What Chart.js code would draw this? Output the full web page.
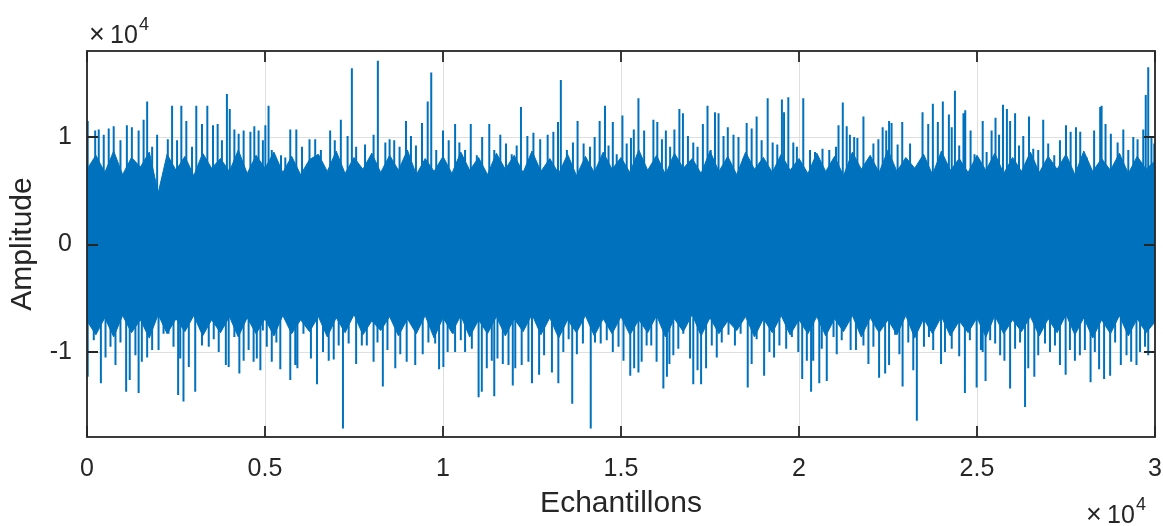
<!DOCTYPE html>
<html>
<head>
<meta charset="utf-8">
<script src="https://cdn.jsdelivr.net/npm/chart.js@4.4.0/dist/chart.umd.min.js"></script>
<style>
  html,body{margin:0;padding:0;background:#fff;overflow:hidden}
  canvas{display:block}
</style>
</head>
<body>
<canvas id="sig" width="1163" height="526"></canvas>
<script>
// Signal: dense core band (upper/lower edge every 250 samples) + individual peaks and troughs
const coreStep = 250;
const coreTop = [
  7000,8300,6700,8700,6500,8100,7200,8600,4800,8400,6900,8200,6400,8500,7100,8000,6800,8800,6600,8300,
  7100,8600,6700,8200,6500,7900,8400,6800,8700,6600,8100,7000,8500,6700,8300,6900,8800,6500,8000,6800,
  8200,6600,8600,6900,8100,6500,8500,7000,8300,6700,8700,6800,8000,6600,8400,6400,8200,6700,8600,7000,
  8100,6700,8800,6900,8300,6500,8500,7100,8000,6600,8700,6800,8200,6500,8600,7000,8100,6700,8400,6900,
  8000,6600,8500,6800,8200,6400,8600,7000,8300,6700,8800,6800,8100,7100,8400,6500,8700,6900,8000,6700,
  8300,6900,8500,6600,8100,6800,8600,6700,8200,7000,8400,6500,8700,6800,8000,6900,8500,6600,8200,7000,
  7800
];
const coreBottom = [
  -7100,-8400,-6800,-8600,-6600,-8200,-7000,-8700,-6500,-8300,-6900,-8100,-6600,-8500,-7000,-8200,-6700,-8600,-6800,-8300,
  -6900,-8500,-6600,-8300,-7000,-8100,-6700,-8600,-6800,-8200,-6500,-8400,-7100,-8000,-6700,-8500,-6900,-8300,-6600,-8700,
  -6800,-8200,-6600,-8600,-7000,-8300,-6700,-8500,-6900,-8100,-6500,-8400,-6800,-8700,-7000,-8200,-6600,-8500,-6900,-8300,
  -6700,-8400,-7000,-8200,-6600,-8600,-6900,-8100,-6500,-8500,-6800,-8300,-7100,-8000,-6700,-8600,-6900,-8200,-6600,-8400,
  -7000,-8300,-6700,-8500,-6900,-8100,-6600,-8600,-6800,-8200,-7000,-8400,-6600,-8700,-6900,-8300,-6700,-8500,-7100,-8200,
  -6800,-8600,-6600,-8300,-7000,-8100,-6700,-8500,-6900,-8200,-6500,-8400,-6800,-8700,-7000,-8300,-6600,-8500,-6900,-8200,
  -7200
];

const peakSamples = [
  20,230,330,470,610,750,940,1120,1260,1450,1590,1690,1830,1970,2270,2390,2530,2650,2790,2950,3070,3230,3380,3540,3670,3790,3930,4010,4140,4260,4400,4590,4700,4820,4940,
  5010,5100,5190,5450,5570,5710,5880,6040,6250,6410,6570,6830,6960,7130,7320,7440,7560,7810,8050,8170,8380,8500,8630,8780,8960,9100,9240,9410,9570,9670,9810,10000,
  10160,10340,10460,10620,10780,10950,11100,11300,11440,11610,11770,11930,12070,12190,12370,12540,12730,12940,13100,13230,13310,13480,13650,13780,13950,14130,14260,14400,14550,14650,14770,14880,15040,
  15160,15280,15360,15490,15650,15910,16020,16150,16260,16380,16500,16640,16740,16880,17030,17150,17300,17430,17520,17640,17740,17880,18000,18160,18300,18440,18530,18670,18810,18950,19120,19260,19390,19520,19580,19700,19840,19940,20120,
  20310,20450,20660,20850,21040,21110,21230,21340,21430,21550,21640,21810,22090,22230,22350,22450,22530,22600,22770,22900,23120,23470,23630,23760,23900,24040,24210,24290,24380,24500,24620,24670,24820,24930,25160,
  25270,25410,25520,25620,25730,25840,25930,26070,26180,26300,26460,26580,26720,26860,27000,27170,27330,27500,27630,27780,27900,28080,28290,28460,28500,28610,28760,28950,29110,29250,29390,29510,29670,29740,29810,29900,29980
];
const peakValues = [
  11500,10600,10700,10200,10800,11000,9700,11100,10900,10600,11600,13300,9100,10200,9800,12900,9700,12900,11500,9100,12900,11200,12900,11100,11200,9700,14000,12600,10700,10300,10600,10500,11000,10600,9700,
  11100,12900,8800,8300,8100,10700,10700,9100,9800,9800,8800,10600,9700,11600,10100,16400,9100,9300,10200,17100,9500,9800,9700,9100,11500,10100,9200,11300,13300,16000,8800,10600,
  9700,11200,9500,8800,11200,8300,10000,11200,8800,10200,9400,8400,9200,12800,10100,10400,9800,10200,10500,11400,15300,8800,9500,11500,9400,9100,10000,11500,12900,9200,11400,8400,12000,
  9400,9900,10700,13600,10600,11600,11400,9800,10600,9100,10700,12600,12200,10100,9500,9100,11200,12900,8800,12300,12200,10100,10900,10200,10000,8000,11300,10800,11900,9700,13600,9500,9300,13500,12300,13700,9500,9100,13600,
  8800,8600,8900,8800,9100,11100,13200,11000,10200,10000,9900,11900,9400,9800,10900,10600,11500,11300,9300,11400,9400,12300,11200,13100,11400,13300,12100,10900,14300,9200,12200,12500,10600,8400,11500,
  8600,10600,11800,10200,13000,12600,11500,12200,9200,10100,11900,8900,8800,11600,9400,8300,9700,11100,10500,10900,10500,8100,10600,12800,12900,11200,10300,9500,10700,8800,10000,9800,10700,13900,16500,10000,9400
];

const troughSamples = [
  20,190,390,520,660,800,940,1100,1200,1360,1450,1540,1690,1830,2010,2150,2290,2430,2560,2620,2710,2860,3040,3230,3420,3560,3700,3900,3980,4140,4280,4400,4540,4680,4770,4940,
  4870,5050,5190,5320,5430,5710,5850,5910,6080,6290,6460,6630,6790,6930,7070,7190,7350,7560,7720,7860,8050,8160,8310,8440,8660,8800,8980,9220,9430,9590,9780,9890,10010,
  10130,10280,10340,10500,10620,10810,11000,11090,11230,11370,11440,11530,11680,11840,11960,12030,12210,12400,12500,12700,12840,13060,13240,13380,13530,13630,13760,13930,14150,14270,14430,14600,14770,14930,15070,
  15260,15370,15490,15580,15720,15850,16000,16190,16290,16360,16470,16610,16750,16940,17030,17150,17250,17390,17550,17690,17830,18020,18200,18360,18560,18670,18810,19020,19170,19300,19450,19640,19800,19980,20090,
  20220,20340,20400,20570,20640,20780,20970,21060,21200,21450,21600,21810,21950,22090,22250,22420,22530,22700,22820,22910,23070,23210,23310,23510,23650,23770,23990,24100,24290,24500,24660,24800,24990,25160,
  25110,25240,25370,25510,25650,25770,25930,26070,26210,26350,26440,26610,26720,26910,27050,27190,27330,27490,27610,27750,27890,28030,28190,28310,28430,28570,28740,28880,29040,29200,29330,29480,29580,29720,29810
];
const troughValues = [
  -12300,-8900,-12900,-10500,-9500,-11200,-9100,-13700,-12600,-10300,-13800,-10900,-10500,-9800,-9800,-8300,-8300,-9500,-14000,-10600,-14600,-11400,-13700,-9400,-9500,-8800,-10000,-11200,-11400,-8600,-12000,-10800,-9800,-10900,-10600,-8000,
  -11700,-9500,-10900,-9100,-11600,-12600,-11200,-11500,-8300,-10600,-13000,-10000,-10800,-10700,-9400,-17100,-9200,-11100,-9400,-9400,-10900,-9100,-13200,-9800,-11500,-10200,-10900,-11200,-10200,-9100,-9200,-11600,-11400,
  -10000,-8300,-10000,-8900,-10000,-9700,-14200,-13700,-11500,-10800,-14100,-10600,-11100,-11200,-13100,-11500,-11200,-10900,-12900,-12100,-10300,-11900,-12900,-10000,-8800,-14800,-10200,-9200,-17100,-9100,-9200,-8900,-10000,-9500,-10800,
  -12200,-11500,-11900,-10900,-9400,-9400,-10900,-13400,-12300,-11100,-10300,-9700,-8300,-10600,-13000,-11700,-13000,-11500,-9400,-10500,-9100,-8400,-9400,-8300,-13300,-11100,-8800,-12200,-10000,-10500,-9400,-9700,-8600,-10000,-12500,
  -10800,-13700,-10800,-12900,-9700,-12700,-8600,-10200,-8900,-9800,-9800,-9400,-11100,-9500,-12400,-12000,-11200,-8400,-10200,-13200,-9100,-11700,-16400,-9500,-8600,-9800,-11100,-10000,-9700,-10400,-13800,-8900,-13300,-10000,
  -9800,-12700,-8900,-9200,-10300,-10800,-13400,-9700,-9100,-15100,-11500,-12300,-10300,-9200,-10000,-9400,-11200,-12100,-9800,-10800,-10300,-9800,-12800,-10000,-11600,-12500,-12200,-9100,-11200,-10300,-10900,-11200,-10000,-9500,-10300
];

const xTicks = [0,5000,10000,15000,20000,25000,30000];
const xTickLabels = ['0','0.5','1','1.5','2','2.5','3'];
const yTicks = [-10000,0,10000];
const yTickLabels = ['-1','0','1'];

const BLUE = '#0072BD';
const INK = '#262626';
const FONT = '"Liberation Sans", Arial, Helvetica, sans-serif';

// each peak is a vertical stroke from 0 to its value; null breaks the line between them
function stems(xs, ys){
  const out = [];
  xs.forEach((s,i)=>{ out.push({x:s,y:0},{x:s,y:ys[i]},{x:s,y:null}); });
  return out;
}
const edge = vals => vals.map((v,i)=>({x:i*coreStep, y:v}));

// box, inward ticks on all four sides, and the x10^4 multipliers
const boxAxes = {
  id: 'boxAxes',
  afterDraw(chart){
    const {ctx, chartArea:a, scales:{x,y}} = chart;
    const TL = 11;
    ctx.save();
    ctx.strokeStyle = INK; ctx.lineWidth = 1.8;
    ctx.strokeRect(a.left, a.top, a.right-a.left, a.bottom-a.top);
    ctx.beginPath();
    x.ticks.forEach(t=>{ const px = Math.round(x.getPixelForValue(t.value));
      ctx.moveTo(px,a.bottom); ctx.lineTo(px,a.bottom-TL);
      ctx.moveTo(px,a.top); ctx.lineTo(px,a.top+TL); });
    y.ticks.forEach(t=>{ const py = Math.round(y.getPixelForValue(t.value));
      ctx.moveTo(a.left,py); ctx.lineTo(a.left+TL,py);
      ctx.moveTo(a.right,py); ctx.lineTo(a.right-TL,py); });
    ctx.stroke();

    ctx.fillStyle = INK; ctx.textBaseline = 'alphabetic'; ctx.textAlign = 'left';
    const mult = (x0, base) => {
      ctx.font = '27px ' + FONT; ctx.fillText('\u00d7', x0, base);
      ctx.font = '25px ' + FONT; ctx.fillText('10', x0 + 21, base);
      ctx.font = '18px ' + FONT; ctx.fillText('4', x0 + 50, base - 13);
    };
    mult(89, 43);
    mult(1086, 523);
    ctx.restore();
  }
};

new Chart(document.getElementById('sig'), {
  type: 'scatter',
  data: { datasets: [
    { data: edge(coreTop), showLine:true, fill:'+1',
      backgroundColor: BLUE, borderColor: BLUE, borderWidth:1, pointRadius:0 },
    { data: edge(coreBottom), showLine:true, fill:false,
      borderColor: BLUE, borderWidth:1, pointRadius:0 },
    { data: stems(peakSamples, peakValues), showLine:true, spanGaps:false,
      borderColor: BLUE, borderWidth:2, pointRadius:0 },
    { data: stems(troughSamples, troughValues), showLine:true, spanGaps:false,
      borderColor: BLUE, borderWidth:2, pointRadius:0 }
  ]},
  options: {
    responsive: false, animation: false, devicePixelRatio: 1,
    layout: { padding: { top: 51, right: 8, left: 0, bottom: 0 } },
    plugins: { legend: { display:false }, tooltip: { enabled:false } },
    scales: {
      x: {
        type: 'linear', position: 'bottom', min: 0, max: 30000,
        afterBuildTicks: s => { s.ticks = xTicks.map(v=>({value:v})); },
        afterFit: s => { s.height = 89; s.paddingLeft = 0; s.paddingRight = 0; },
        grid: { color:'#DFDFDF', lineWidth:1, drawTicks:false },
        border: { display:false },
        ticks: { padding: 17, color: INK, font: { family: FONT, size: 25 }, maxRotation: 0,
                 callback: (v,i) => xTickLabels[i] },
        title: { display:true, text:'Echantillons', color: INK,
                 font: { family: FONT, size: 30 }, padding: { top:0, bottom:4 } }
      },
      y: {
        type: 'linear', position: 'left', min: -17900, max: 18000,
        afterBuildTicks: s => { s.ticks = yTicks.map(v=>({value:v})); },
        afterFit: s => { s.width = 87; s.paddingTop = 0; s.paddingBottom = 0; },
        grid: { color:'#DFDFDF', lineWidth:1, drawTicks:false },
        border: { display:false },
        ticks: { padding: 15, color: INK, font: { family: FONT, size: 25 },
                 callback: (v,i) => yTickLabels[i] },
        title: { display:true, text:'Amplitude', color: INK,
                 font: { family: FONT, size: 30 }, padding: { top:5, bottom:0 } }
      }
    }
  },
  plugins: [boxAxes]
});
</script>
</body>
</html>
